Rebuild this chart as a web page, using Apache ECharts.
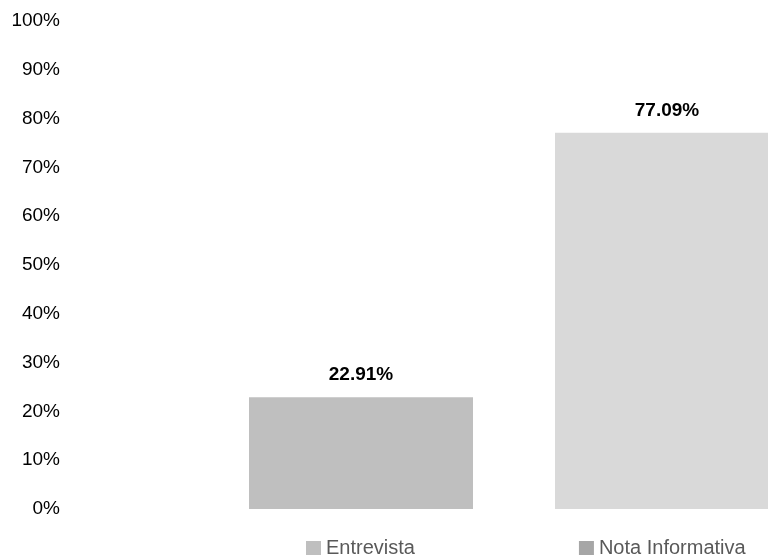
<!DOCTYPE html>
<html><head><meta charset="utf-8">
<script src="https://cdn.jsdelivr.net/npm/echarts@6/dist/echarts.min.js"></script>
<style>html,body{margin:0;padding:0;background:#fff}#c{width:768px;height:558px}</style>
</head><body><div id="c"></div>
<script>
var categories = [''];
var seriesNames = ['Entrevista', 'Nota Informativa'];
var entrevista = [22.91];
var notaInformativa = [77.09];
var yTicks = [0, 10, 20, 30, 40, 50, 60, 70, 80, 90, 100];

var chart = echarts.init(document.getElementById('c'), null, {renderer: 'canvas'});
var FONT = 'Liberation Sans, Arial, sans-serif';
var labelCfg = {
  show: true, position: 'top', distance: 13,
  fontFamily: FONT, fontWeight: 'bold', fontSize: 19, color: '#000',
  formatter: function (p) { return p.value.toFixed(2) + '%'; }
};
chart.setOption({
  animation: false,
  legend: {
    left: 301, top: 533,
    itemWidth: 15, itemHeight: 14, itemGap: 164,
    icon: 'rect',
    textStyle: {fontFamily: FONT, fontSize: 20, color: '#595959'},
    data: [
      {name: seriesNames[0], itemStyle: {color: '#bfbfbf'}},
      {name: seriesNames[1], itemStyle: {color: '#a6a6a6'}}
    ]
  },
  grid: {left: 70, right: -190, top: 21, bottom: 49, outerBoundsMode: 'none', containLabel: false},
  xAxis: {
    type: 'category', data: categories,
    axisLine: {show: false}, axisTick: {show: false}, axisLabel: {show: false}
  },
  yAxis: {
    type: 'value', min: yTicks[0], max: yTicks[yTicks.length - 1], interval: 10,
    axisLine: {show: false}, axisTick: {show: false}, splitLine: {show: false},
    axisLabel: {margin: 10, fontFamily: FONT, fontSize: 19, color: '#000', formatter: '{value}%'}
  },
  series: [
    {name: seriesNames[0], type: 'bar', data: entrevista, barWidth: 224, barGap: '36.6%',
     itemStyle: {color: '#bfbfbf'}, label: labelCfg},
    {name: seriesNames[1], type: 'bar', data: notaInformativa, barWidth: 224,
     itemStyle: {color: '#d9d9d9'}, label: labelCfg}
  ]
});
</script></body></html>
